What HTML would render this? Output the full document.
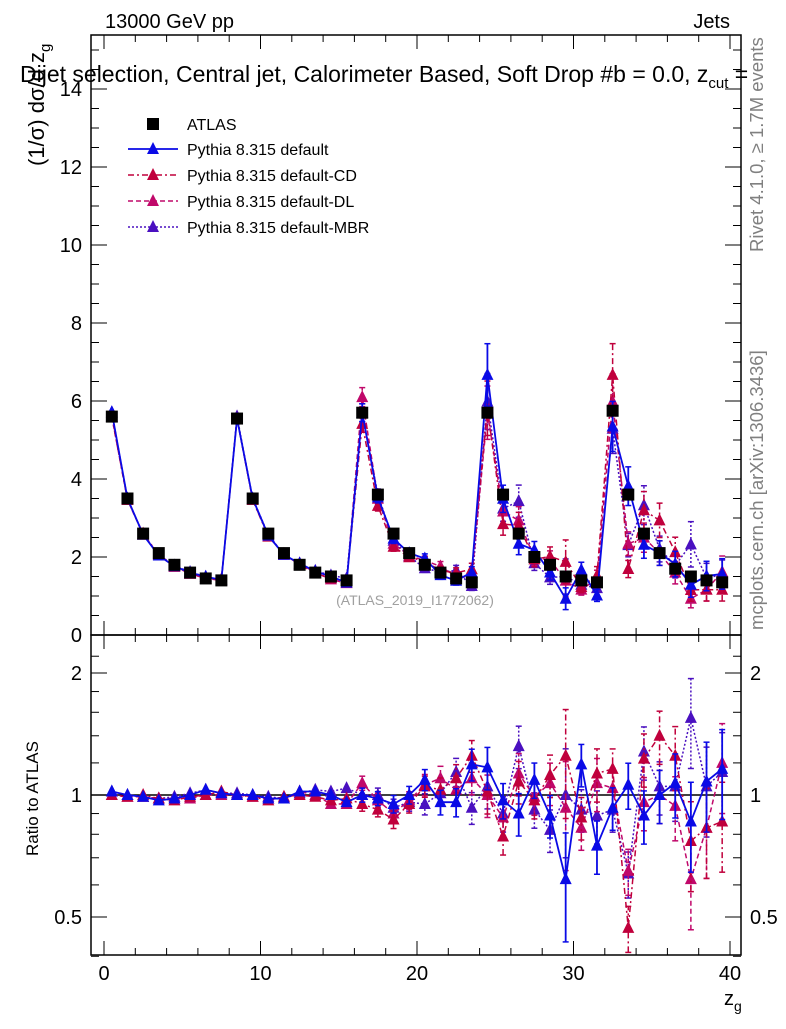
<!DOCTYPE html>
<html><head><meta charset="utf-8"><style>
body{margin:0;background:#fff;}
svg text{font-family:"Liberation Sans",sans-serif;}
</style></head><body>
<svg id="c" width="786" height="1024" xmlns="http://www.w3.org/2000/svg"></svg>
<script>
const binCenters=[0.5,1.5,2.5,3.5,4.5,5.5,6.5,7.5,8.5,9.5,10.5,11.5,12.5,13.5,14.5,15.5,16.5,17.5,18.5,19.5,20.5,21.5,22.5,23.5,24.5,25.5,26.5,27.5,28.5,29.5,30.5,31.5,32.5,33.5,34.5,35.5,36.5,37.5,38.5,39.5];
const atlasValues=[5.6,3.5,2.6,2.1,1.8,1.6,1.45,1.4,5.55,3.5,2.6,2.1,1.8,1.6,1.5,1.4,5.7,3.6,2.6,2.1,1.8,1.6,1.45,1.35,5.7,3.6,2.6,2.0,1.8,1.5,1.4,1.35,5.75,3.6,2.6,2.1,1.7,1.5,1.4,1.35];
const ratioDefault=[1.02,1.0,0.99,0.97,0.98,1.0,1.03,1.01,1.0,1.0,0.98,0.98,1.02,1.02,1.0,0.96,1.0,0.98,0.95,1.0,1.09,0.96,0.96,1.19,1.17,0.97,0.9,1.09,0.89,0.62,1.19,0.75,0.93,1.06,0.89,1.0,1.07,0.86,1.08,1.16];
const ratioCD=[1.0,0.99,1.0,0.98,0.97,0.99,1.0,1.02,1.0,0.99,0.97,0.99,1.0,0.99,0.97,0.98,0.95,0.92,0.87,0.95,1.05,1.03,1.1,1.25,1.02,0.79,1.08,0.97,1.12,1.25,0.88,1.13,1.16,0.47,1.23,1.4,1.25,0.77,0.83,0.86];
const ratioDL=[1.0,0.99,0.99,0.98,0.98,0.98,1.0,1.0,1.0,0.99,0.98,0.98,1.02,1.0,0.95,0.95,1.07,0.97,0.9,0.97,1.06,1.1,1.03,1.1,1.0,0.88,1.13,0.99,1.07,0.93,0.83,1.07,1.04,0.65,0.96,1.0,0.94,0.62,0.83,1.2];
const ratioMBR=[1.02,1.0,0.99,0.98,0.99,1.01,1.03,1.01,1.01,1.0,0.99,0.98,1.01,1.03,1.02,1.04,1.0,1.0,0.93,0.96,0.95,1.01,1.14,0.93,1.05,0.9,1.32,0.92,0.82,1.0,0.92,0.89,0.92,0.64,1.28,1.05,1.05,1.55,1.05,1.14];
const relErr=[0.01,0.01,0.01,0.01,0.01,0.01,0.01,0.01,0.01,0.01,0.01,0.01,0.015,0.015,0.02,0.02,0.04,0.04,0.05,0.05,0.06,0.07,0.08,0.09,0.12,0.1,0.12,0.1,0.12,0.3,0.12,0.15,0.12,0.13,0.15,0.15,0.18,0.25,0.25,0.25];
const mainYTicks=[0,2,4,6,8,10,12,14];
const xTicks=[0,10,20,30,40];
const ratioTicks=[0.5,1,2];

const NS="http://www.w3.org/2000/svg";
const svg=document.getElementById('c');
function el(tag,attrs,parent){const e=document.createElementNS(NS,tag);for(const k in attrs)e.setAttribute(k,attrs[k]);(parent||svg).appendChild(e);return e;}
const L=91,R=741,MT=35,MB=635,RB=955;
const X=v=>104+v*15.65;
const Y=v=>635-v*39;
const RY=v=>795-122*Math.log2(v);

let f=el('rect',{x:L,y:MT,width:R-L,height:MB-MT,fill:'none',stroke:'#000','stroke-width':1.5});

let f2=el('rect',{x:L,y:MB,width:R-L,height:RB-MB,fill:'none',stroke:'#000','stroke-width':1.5});


for(let v=0;v<=40;v+=2){const big=v%10===0;const len=big?14:7;
 [[MB,-1],[MT,1],[RB,-1],[MB,1]].forEach(([y0,d])=>{el('line',{x1:X(v),x2:X(v),y1:y0,y2:y0+d*len,stroke:'#000','stroke-width':1});});}
xTicks.forEach(v=>{const t=el('text',{x:X(v),y:980,'font-size':20,'text-anchor':'middle'});t.textContent=v;
 });
for(let v=0;v<=15;v+=0.5){const big=v%2===0;const len=big?16:8;if(Y(v)<MT)continue;
 el('line',{x1:L,x2:L+len,y1:Y(v),y2:Y(v),stroke:'#000'});el('line',{x1:R,x2:R-len,y1:Y(v),y2:Y(v),stroke:'#000'});}
mainYTicks.forEach(v=>{const t=el('text',{x:82,y:Y(v)+7,'font-size':20,'text-anchor':'end'});t.textContent=v;
 });
[0.4,0.5,0.6,0.7,0.8,0.9,1,2].forEach(v=>{const big=ratioTicks.includes(v);const len=big?16:8;
 el('line',{x1:L,x2:L+len,y1:RY(v),y2:RY(v),stroke:'#000'});el('line',{x1:R,x2:R-len,y1:RY(v),y2:RY(v),stroke:'#000'});});
[1.2,1.4,1.6,1.8,2.2].forEach(v=>{el('line',{x1:L,x2:L+8,y1:RY(v),y2:RY(v),stroke:'#000'});el('line',{x1:R,x2:R-8,y1:RY(v),y2:RY(v),stroke:'#000'});});
ratioTicks.forEach(v=>{const lab=v===0.5?'0.5':String(v);
 let t=el('text',{x:82,y:RY(v)+7,'font-size':20,'text-anchor':'end'});t.textContent=lab;
 
 let t2=el('text',{x:750,y:RY(v)+7,'font-size':20});t2.textContent=lab;
 });
el('line',{x1:L,x2:R,y1:RY(1),y2:RY(1),stroke:'#000','stroke-width':1.5});

const series=[
 {name:'default',r:ratioDefault,color:'#0a0ae6',dash:'',w:1.8},
 {name:'cd',r:ratioCD,color:'#c0003c',dash:'6,3,2,3',w:1.5},
 {name:'dl',r:ratioDL,color:'#c0086a',dash:'5,3',w:1.5},
 {name:'mbr',r:ratioMBR,color:'#4a10c0',dash:'2,2',w:1.5}];

function tri(x,y,c,p,name){const t=el('polygon',{points:`${x-6},${y+5} ${x+6},${y+5} ${x},${y-7}`,fill:c},p);
 }
function errbar(x,y1,y2,s,p){el('line',{x1:x,x2:x,y1:y1,y2:y2,stroke:s.color,'stroke-width':s.w,'stroke-dasharray':s.dash},p);
 [y1,y2].forEach(y=>el('line',{x1:x-3,x2:x+3,y1:y,y2:y,stroke:s.color,'stroke-width':1.5},p));}

series.slice().reverse().forEach(s=>{
 const g=el('g',{});
 const vals=binCenters.map((b,i)=>atlasValues[i]*s.r[i]);
 el('polyline',{points:binCenters.map((b,i)=>X(b)+','+Y(vals[i])).join(' '),fill:'none',stroke:s.color,'stroke-width':s.w,'stroke-dasharray':s.dash},g);
 el('polyline',{points:binCenters.map((b,i)=>X(b)+','+RY(s.r[i])).join(' '),fill:'none',stroke:s.color,'stroke-width':s.w,'stroke-dasharray':s.dash},g);
 binCenters.forEach((b,i)=>{const e=vals[i]*relErr[i];
  if(relErr[i]>0.02)errbar(X(b),Y(vals[i]-e),Y(vals[i]+e),s,g);
  const re=s.r[i]*relErr[i];
  if(relErr[i]>0.02)errbar(X(b),RY(Math.max(0.35,s.r[i]-re)),RY(s.r[i]+re),s,g);
  tri(X(b),Y(vals[i]),s.color,g,'point-'+s.name);
  tri(X(b),RY(s.r[i]),s.color,g,'ratio-point-'+s.name);});
});
const dg=el('g',{});
binCenters.forEach((b,i)=>{const r=el('rect',{x:X(b)-6,y:Y(atlasValues[i])-6,width:12,height:12,fill:'#000'},dg);
 });
</script>
<svg width="786" height="1024" style="position:absolute;left:0;top:0" xmlns="http://www.w3.org/2000/svg">
<g font-family="Liberation Sans,sans-serif" font-size="16">
 <rect x="147" y="118" width="12" height="12" fill="#000"/>
 <text x="187" y="130">ATLAS</text>
 <line x1="128" x2="178" y1="149" y2="149" stroke="#0a0ae6" stroke-width="1.8"/><polygon points="147,154 159,154 153,142" fill="#0a0ae6"/>
 <text x="187" y="155">Pythia 8.315 default</text>
 <line x1="128" x2="178" y1="175" y2="175" stroke="#c0003c" stroke-dasharray="6,3,2,3" stroke-width="1.5"/><polygon points="147,180 159,180 153,168" fill="#c0003c"/>
 <text x="187" y="181">Pythia 8.315 default-CD</text>
 <line x1="128" x2="178" y1="201" y2="201" stroke="#c0086a" stroke-dasharray="5,3" stroke-width="1.5"/><polygon points="147,206 159,206 153,194" fill="#c0086a"/>
 <text x="187" y="207">Pythia 8.315 default-DL</text>
 <line x1="128" x2="178" y1="227" y2="227" stroke="#4a10c0" stroke-dasharray="2,2" stroke-width="1.5"/><polygon points="147,232 159,232 153,220" fill="#4a10c0"/>
 <text x="187" y="233">Pythia 8.315 default-MBR</text>
</g>
<g font-family="Liberation Sans,sans-serif">
 <text x="105" y="28" font-size="20">13000 GeV pp</text>
 <text x="730" y="28" font-size="20" text-anchor="end">Jets</text>
 <text x="20" y="82" font-size="23">Dijet selection, Central jet, Calorimeter Based, Soft Drop #b = 0.0, z<tspan font-size="15" dy="6">cut</tspan><tspan dy="-6"> =</tspan></text>
 <text transform="translate(44,166) rotate(-90)" font-size="22">(1/σ) dσ/d z<tspan font-size="15" dy="6">g</tspan></text>
 <text transform="translate(38,856) rotate(-90)" font-size="17">Ratio to ATLAS</text>
 <text x="724" y="1005" font-size="20">z<tspan font-size="14" dy="6">g</tspan></text>
 <text transform="translate(763,252) rotate(-90)" font-size="18.5" fill="#808080">Rivet 4.1.0, ≥ 1.7M events</text>
 <text transform="translate(763,630) rotate(-90)" font-size="18.5" fill="#808080">mcplots.cern.ch [arXiv:1306.3436]</text>
 <text x="415" y="605" font-size="14" fill="#a0a0a0" text-anchor="middle">(ATLAS_2019_I1772062)</text>
</g>
</svg>
</body></html>
